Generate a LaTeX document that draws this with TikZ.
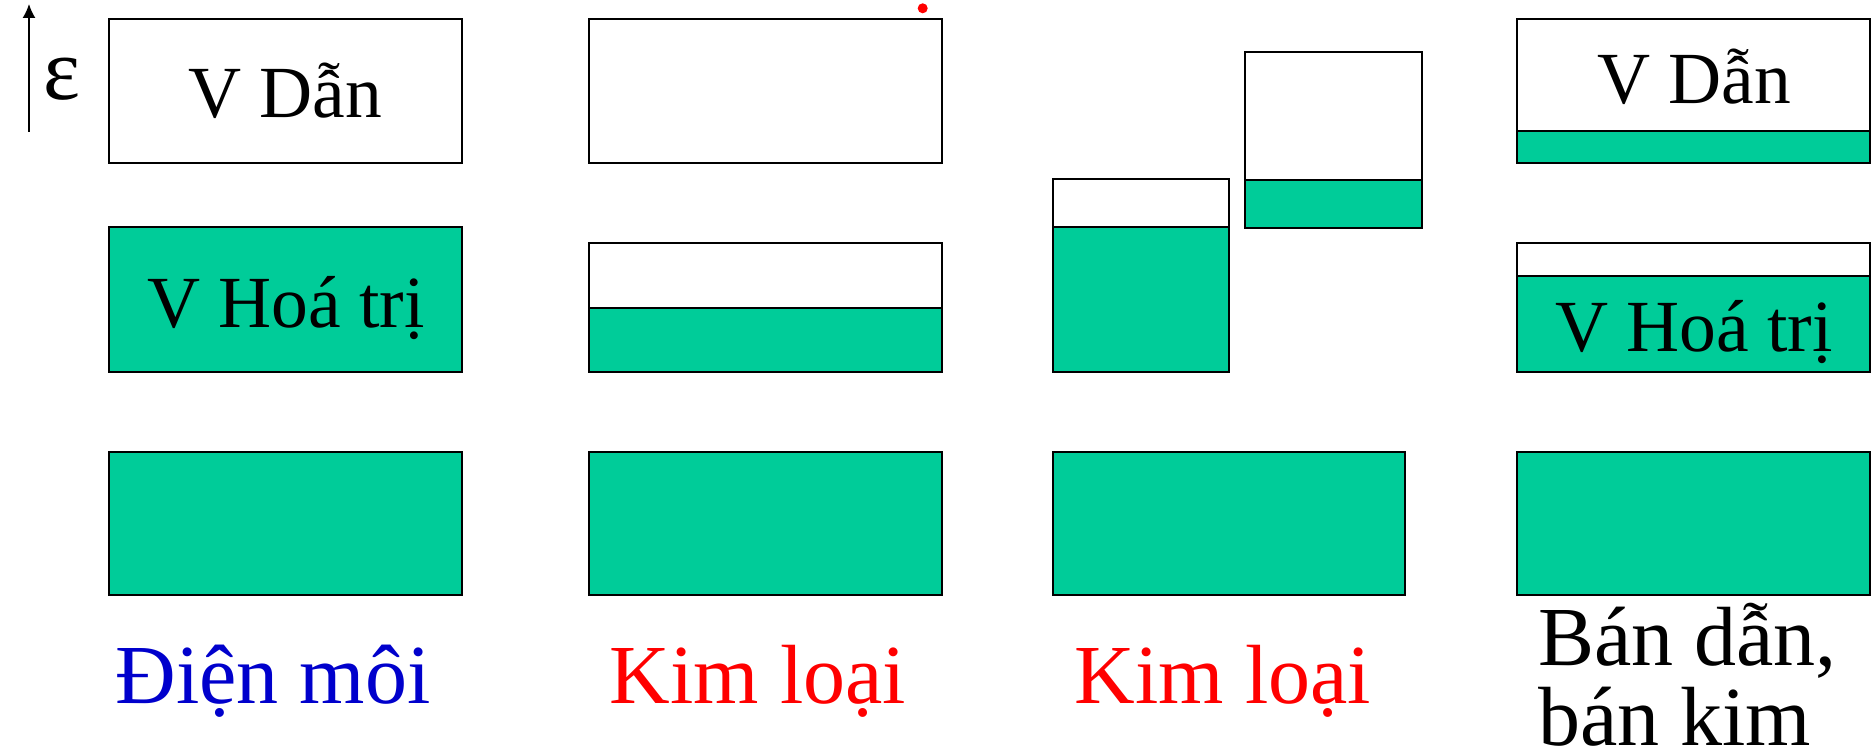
\documentclass[tikz,border=0pt]{standalone}
\usepackage{fontspec}
\setmainfont{Liberation Serif}
\newfontfamily\bandfont{Liberation Serif}
\usetikzlibrary{arrows.meta}
\definecolor{bandgreen}{RGB}{0,204,153}
\definecolor{labelblue}{RGB}{0,0,204}
\definecolor{labelred}{RGB}{255,0,0}

% \bandrect{name}{x1}{y1}{x2}{y2}{fill}: one energy band drawn as a framed rectangle
\newcommand\bandrect[6]{%
  \node[band, fill=#6, minimum width={(#4-#2)*1pt}, minimum height={(#5-#3)*1pt}]
    (#1) at ({(#2+#4)/2},{(#3+#5)/2}) {};}

\tikzset{
  band/.style={draw=black, line width=2pt, rectangle, inner sep=0pt},
  boxtext/.style={font=\bandfont\fontsize{73.5}{88}\selectfont, inner sep=0pt, anchor=base},
  caption/.style={font=\bandfont\fontsize{84}{84}\selectfont, inner sep=0pt, anchor=base},
}

\begin{document}
\begin{tikzpicture}[x=1pt, y=-1pt]
\useasboundingbox (0,0) rectangle (1873,751);

% energy axis
\coordinate (axisfoot) at (29,132);
\coordinate (axistip) at (29,4);
\draw[line width=1.6pt, -{Latex[length=14pt,width=13pt]}] (axisfoot) -- (axistip);
\node[font=\bandfont\fontsize{88}{96}\selectfont, inner sep=0pt, anchor=base] (eps) at (61.7,100) {ε};

% dielectric
\bandrect{dcond}{108.5}{19.3}{461.5}{163.5}{white}
\bandrect{dval}{108.5}{227.3}{461.5}{371.7}{bandgreen}
\bandrect{dlow}{108.5}{451.5}{461.5}{595}{bandgreen}
\node[boxtext] (dcondtxt) at (285,118) {V Dẫn};
\node[boxtext] (dvaltxt) at (286,327.3) {V Hoá trị};
\node[caption, text=labelblue] (dcap) at (273,703.3) {Điện môi};

% metal, partly filled band
\bandrect{mcond}{589.3}{19.3}{941.7}{163.3}{white}
\bandrect{mvaltop}{589.3}{243.3}{941.7}{307.7}{white}
\bandrect{mvalfill}{589.3}{307.7}{941.7}{371.7}{bandgreen}
\bandrect{mlow}{589.3}{451.5}{941.7}{595}{bandgreen}
\node[circle, fill=labelred, inner sep=0pt, minimum size=10pt] (mdot) at (922.7,8.3) {};
\node[caption, text=labelred] (mcap) at (757.8,703.3) {Kim loại};

% metal, overlapping bands
\bandrect{ovaltop}{1052.7}{179.3}{1229.3}{227.3}{white}
\bandrect{ovalfill}{1052.7}{227.3}{1229.3}{371.7}{bandgreen}
\bandrect{ocondtop}{1245}{51.7}{1421.7}{180}{white}
\bandrect{ocondfill}{1245}{180}{1421.7}{227.7}{bandgreen}
\bandrect{olow}{1052.7}{451.5}{1405}{595}{bandgreen}
\node[caption, text=labelred] (ocap) at (1222.9,703.3) {Kim loại};

% semiconductor, semimetal
\bandrect{scondtop}{1516.7}{19.3}{1870}{131}{white}
\bandrect{scondfill}{1516.7}{131}{1870}{163.3}{bandgreen}
\bandrect{svaltop}{1516.7}{243.3}{1870}{276}{white}
\bandrect{svalfill}{1516.7}{276}{1870}{371.7}{bandgreen}
\bandrect{slow}{1516.7}{451.5}{1870}{595}{bandgreen}
\node[boxtext] (scondtxt) at (1694,103.3) {V Dẫn};
\node[boxtext] (svaltxt) at (1694,351.7) {V Hoá trị};
\node[caption, anchor=base west] (scap1) at (1538,665) {Bán dẫn,};
\node[caption, anchor=base west] (scap2) at (1538,745) {bán kim};
\end{tikzpicture}
\end{document}
